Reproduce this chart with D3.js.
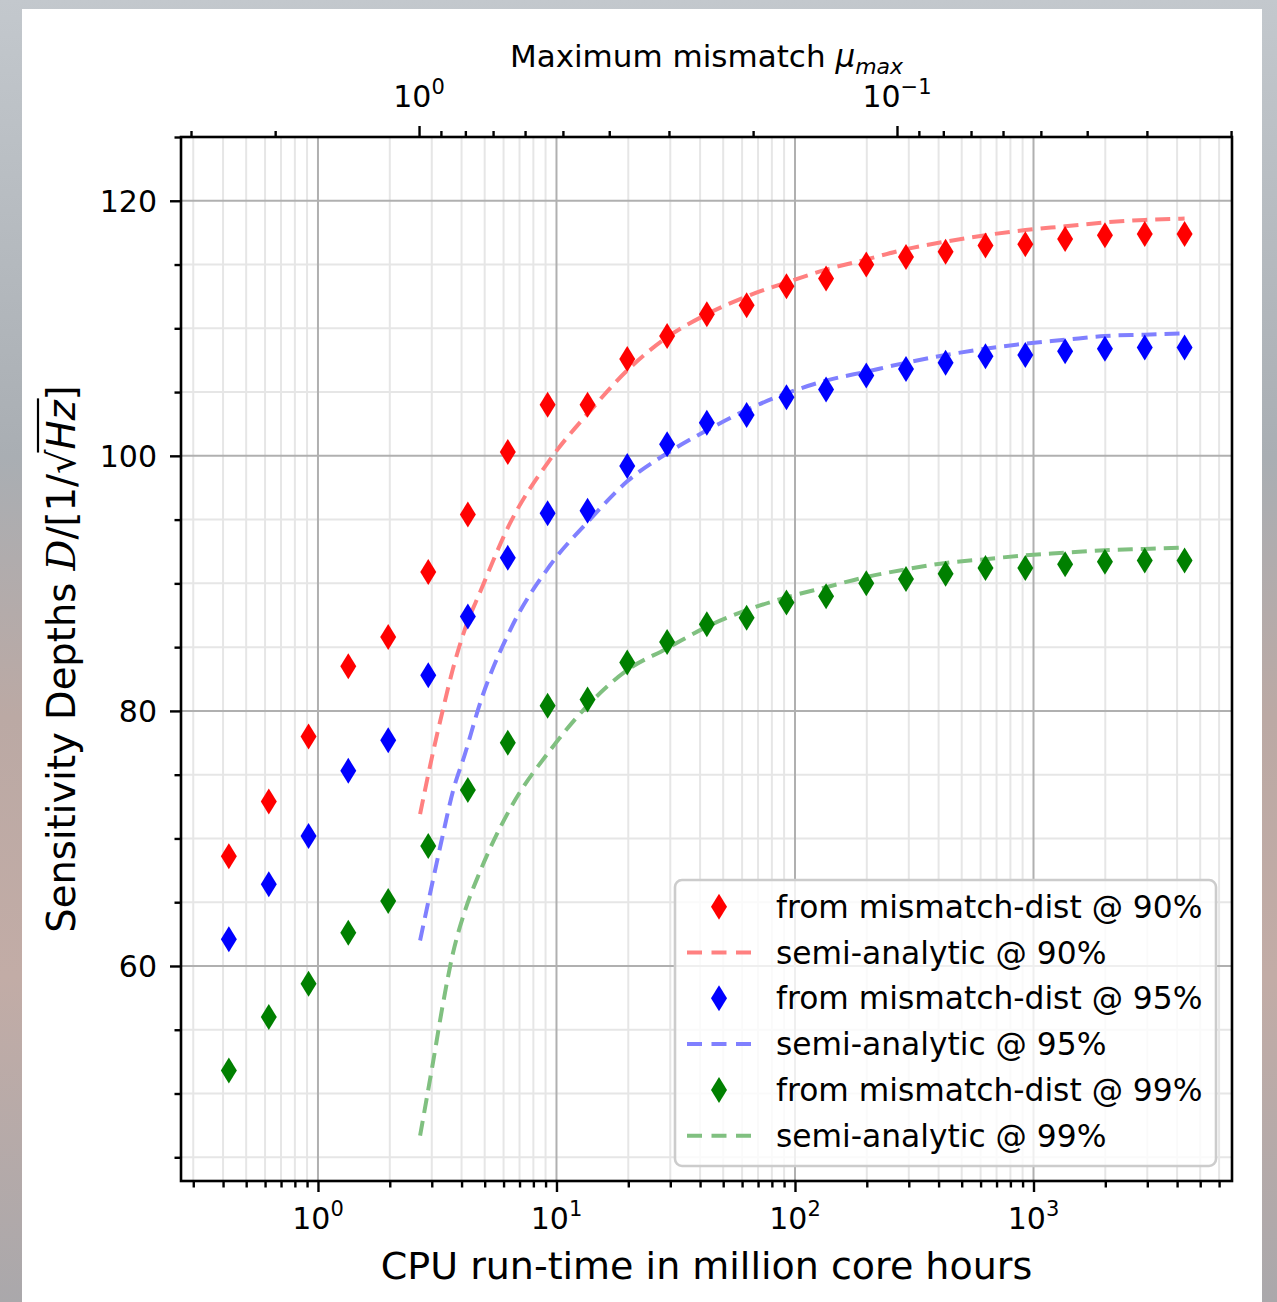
<!DOCTYPE html>
<html>
<head>
<meta charset="utf-8">
<script src="https://cdn.jsdelivr.net/npm/d3@7"></script>
<style>
body {
    margin: 0;
    width: 1277px;
    height: 1302px;
    overflow: hidden;
    background: linear-gradient(to bottom, #c3c8cd 0%, #a9aeb3 35%, #bba9a4 55%, #c2aca6 75%, #aaa8ab 100%);
    font-family: "DejaVu Sans", sans-serif;
}
svg { display: block; }
</style>
</head>
<body>
<div id="chart"></div>
<script>
// x values: CPU run-time in million core hours (one per mismatch-dist point)
var runtime = [0.423, 0.622, 0.913, 1.34, 1.97, 2.90, 4.25, 6.25, 9.18, 13.5, 19.8, 29.1,
    42.7, 62.7, 92.1, 135, 199, 292, 428, 629, 924, 1357, 1993, 2927, 4300];

var dist90 = [68.6, 72.9, 78.0, 83.5, 85.8, 90.9, 95.4, 100.3, 104.0, 104.0, 107.6, 109.4,
    111.1, 111.8, 113.3, 113.9, 115.0, 115.6, 116.0, 116.5, 116.6, 117.0, 117.3, 117.4, 117.4];
var dist95 = [62.1, 66.4, 70.2, 75.3, 77.7, 82.8, 87.4, 92.0, 95.5, 95.7, 99.2, 100.9,
    102.6, 103.2, 104.6, 105.2, 106.3, 106.8, 107.3, 107.8, 107.9, 108.2, 108.4, 108.5, 108.5];
var dist99 = [51.8, 56.0, 58.6, 62.6, 65.1, 69.4, 73.8, 77.5, 80.4, 80.9, 83.8, 85.4,
    86.8, 87.3, 88.5, 89.0, 90.0, 90.35, 90.75, 91.2, 91.2, 91.5, 91.7, 91.8, 91.8];

// semi-analytic curves
var lineRuntime = [2.68, 3.04, 3.34, 3.68, 4.13, 4.78, 6.38, 9.39, 13.8, 19.8, 29.1, 42.7,
    62.7, 92.1, 135, 199, 292, 428, 629, 924, 1357, 1993, 2927, 4300];
var semi90 = [71.9, 76.8, 80.1, 83.3, 86.4, 89.3, 94.7, 99.7, 103.5, 106.7, 109.3, 111.1,
    112.5, 113.6, 114.6, 115.4, 116.2, 116.8, 117.3, 117.7, 118.0, 118.3, 118.5, 118.6];
var semi95 = [62.0, 66.8, 70.3, 73.7, 76.6, 80.6, 86.3, 91.4, 95.0, 98.0, 100.2, 102.0,
    103.6, 104.9, 105.9, 106.6, 107.3, 107.9, 108.4, 108.8, 109.1, 109.4, 109.5, 109.6];
var semi99 = [46.7, 52.5, 57.0, 61.0, 64.3, 67.4, 72.3, 76.9, 80.6, 83.2, 84.9, 86.6,
    87.9, 88.9, 89.7, 90.5, 91.1, 91.6, 91.9, 92.2, 92.4, 92.6, 92.7, 92.8];

// ticks
var xMajor = [1, 10, 100, 1000];
var xMajorExp = ["0", "1", "2", "3"];
var topMajor = [1, 0.1];
var topMajorExp = ["0", "\u22121"];
var topMinor = [3, 2, 0.9, 0.8, 0.7, 0.6, 0.5, 0.4, 0.3, 0.2,
    0.09, 0.08, 0.07, 0.06, 0.05, 0.04, 0.03, 0.02];
var yMajor = [60, 80, 100, 120];

var legendLabels = ["from mismatch-dist @ 90%", "semi-analytic @ 90%",
    "from mismatch-dist @ 95%", "semi-analytic @ 95%",
    "from mismatch-dist @ 99%", "semi-analytic @ 99%"];

var width = 1277;
var height = 1302;
var pLeft = 181, pRight = 1232, pTop = 137, pBottom = 1181;

var svg = d3.select("#chart")
    .append("svg")
    .attr("width", width)
    .attr("height", height);

// white page panel
svg.append("rect")
    .attr("x", 22).attr("y", 9)
    .attr("width", 1240).attr("height", 1300)
    .attr("fill", "white");

var x = d3.scaleLog().domain([0.2665, 6796]).range([pLeft, pRight]);
var xTop = d3.scaleLog().domain([3.148, 0.01991]).range([pLeft, pRight]);
var y = d3.scaleLinear().domain([43.14, 125.0]).range([pBottom, pTop]);

var isMajor = function (v) { return Math.abs(Math.log10(v) - Math.round(Math.log10(v))) < 1e-6; };
var xMinor = x.ticks().filter(function (v) { return !isMajor(v); });
var yMinor = d3.range(45, 126, 5).filter(function (v) { return v % 20 !== 0; });

// grid
var grid = svg.append("g");
grid.selectAll(".gx-minor").data(xMinor).enter().append("line")
    .attr("x1", x).attr("x2", x).attr("y1", pTop).attr("y2", pBottom)
    .attr("stroke", "#e6e6e6").attr("stroke-width", 2);
grid.selectAll(".gy-minor").data(yMinor).enter().append("line")
    .attr("y1", y).attr("y2", y).attr("x1", pLeft).attr("x2", pRight)
    .attr("stroke", "#e6e6e6").attr("stroke-width", 2);
grid.selectAll(".gx-major").data(xMajor).enter().append("line")
    .attr("x1", x).attr("x2", x).attr("y1", pTop).attr("y2", pBottom)
    .attr("stroke", "#b0b0b0").attr("stroke-width", 2);
grid.selectAll(".gy-major").data(yMajor).enter().append("line")
    .attr("y1", y).attr("y2", y).attr("x1", pLeft).attr("x2", pRight)
    .attr("stroke", "#b0b0b0").attr("stroke-width", 2);

var series = [
    { pts: dist90, semi: semi90, dot: "#ff0000", line: "#ff8080" },
    { pts: dist95, semi: semi95, dot: "#0000ff", line: "#8080ff" },
    { pts: dist99, semi: semi99, dot: "#008000", line: "#80c080" }
];

var diamond = "M0,-13L8,0L0,13L-8,0Z";

var line = d3.line()
    .curve(d3.curveMonotoneX)
    .x(function (d) { return x(d[0]); })
    .y(function (d) { return y(d[1]); });

series.forEach(function (s) {
    svg.append("path")
        .datum(d3.zip(lineRuntime, s.semi))
        .attr("fill", "none")
        .attr("stroke", s.line)
        .attr("stroke-width", 4)
        .attr("stroke-dasharray", "15,8")
        .attr("d", line);

    svg.append("g").selectAll("path")
        .data(d3.zip(runtime, s.pts))
        .enter()
        .append("path")
        .attr("d", diamond)
        .attr("fill", s.dot)
        .attr("transform", function (d) { return "translate(" + x(d[0]) + "," + y(d[1]) + ")"; });
});

// axes (tick marks only, labels drawn by hand for the superscripts)
function tickAxis(axis, vals, size, tr) {
    var g = svg.append("g")
        .attr("transform", tr)
        .call(axis.tickValues(vals).tickSize(size).tickFormat(""));
    g.select(".domain").remove();
    g.selectAll("line").attr("stroke", "black").attr("stroke-width", 2.4);
    return g;
}
tickAxis(d3.axisBottom(x), xMinor, 6.5, "translate(0," + pBottom + ")");
tickAxis(d3.axisBottom(x), xMajor, 11, "translate(0," + pBottom + ")");
tickAxis(d3.axisTop(xTop), topMinor, 6, "translate(0," + pTop + ")");
tickAxis(d3.axisTop(xTop), topMajor, 11, "translate(0," + pTop + ")");
tickAxis(d3.axisLeft(y), yMinor, 6.5, "translate(" + pLeft + ",0)");
tickAxis(d3.axisLeft(y), yMajor, 11, "translate(" + pLeft + ",0)");

svg.append("rect")
    .attr("x", pLeft).attr("y", pTop)
    .attr("width", pRight - pLeft).attr("height", pBottom - pTop)
    .attr("fill", "none").attr("stroke", "black").attr("stroke-width", 2.6);

function powerLabel(xpos, ypos, exp) {
    var t = svg.append("text")
        .attr("x", xpos).attr("y", ypos)
        .attr("text-anchor", "middle")
        .attr("font-size", 30)
        .attr("fill", "black");
    t.append("tspan").text("10");
    t.append("tspan").attr("dy", -13).attr("font-size", 21).text(exp);
}
xMajor.forEach(function (v, i) { powerLabel(x(v), 1229, xMajorExp[i]); });
topMajor.forEach(function (v, i) { powerLabel(xTop(v), 107, topMajorExp[i]); });

svg.append("g").selectAll("text")
    .data(yMajor).enter().append("text")
    .attr("x", 157)
    .attr("y", function (d) { return y(d) + 11; })
    .attr("text-anchor", "end")
    .attr("font-size", 30)
    .text(function (d) { return d; });

// axis titles
svg.append("text")
    .attr("x", (pLeft + pRight) / 2).attr("y", 1279)
    .attr("text-anchor", "middle")
    .attr("font-size", 38)
    .text("CPU run-time in million core hours");

var topTitle = svg.append("text")
    .attr("x", (pLeft + pRight) / 2).attr("y", 67)
    .attr("text-anchor", "middle")
    .attr("font-size", 31);
topTitle.append("tspan").text("Maximum mismatch ");
topTitle.append("tspan").attr("font-style", "italic").text("\u03bc");
topTitle.append("tspan").attr("font-style", "italic").attr("font-size", 22).attr("dy", 7).text("max");

var yTitleG = svg.append("g").attr("transform", "translate(75," + ((pTop + pBottom) / 2) + ") rotate(-90)");
var yTitle = yTitleG.append("text")
    .attr("text-anchor", "middle")
    .attr("font-size", 38.5);
yTitle.append("tspan").text("Sensitivity Depths ");
yTitle.append("tspan").attr("font-style", "italic").attr("font-family", "DejaVu Serif").text("D");
yTitle.append("tspan").text("/[1/\u221a");
yTitle.append("tspan").attr("font-style", "italic").text("Hz");
yTitle.append("tspan").text("]");
var node = yTitle.node();
var sqEnd = node.getEndPositionOfChar(24).x;
var zEnd = node.getEndPositionOfChar(26).x;
yTitleG.append("line")
    .attr("x1", sqEnd - 3).attr("x2", zEnd + 2)
    .attr("y1", -37).attr("y2", -37)
    .attr("stroke", "black").attr("stroke-width", 2.2);

// legend
var legend = svg.append("g").attr("transform", "translate(675,880)");
legend.append("rect")
    .attr("width", 541).attr("height", 286).attr("rx", 7)
    .attr("fill", "white").attr("fill-opacity", 0.8)
    .attr("stroke", "#cccccc").attr("stroke-width", 2.6);

legendLabels.forEach(function (lab, i) {
    var s = series[Math.floor(i / 2)];
    var cy = 26.7 + i * 45.8;
    if (i % 2 === 0) {
        legend.append("path")
            .attr("d", diamond)
            .attr("fill", s.dot)
            .attr("transform", "translate(44," + cy + ")");
    } else {
        legend.append("line")
            .attr("x1", 12).attr("x2", 76)
            .attr("y1", cy).attr("y2", cy)
            .attr("stroke", s.line).attr("stroke-width", 4)
            .attr("stroke-dasharray", "15,9.5");
    }
    legend.append("text")
        .attr("x", 101).attr("y", cy + 11)
        .attr("font-size", 31.3)
        .text(lab);
});
</script>
</body>
</html>
